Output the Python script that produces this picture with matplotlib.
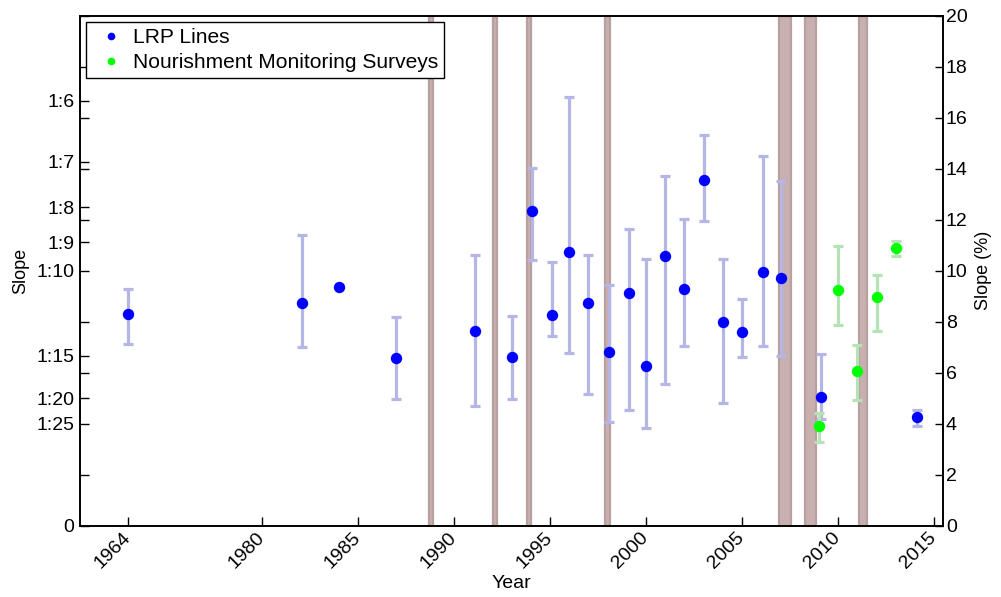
import numpy as np
import matplotlib
matplotlib.use("Agg")
import matplotlib.pyplot as plt
from matplotlib.lines import Line2D

plt.rcParams['font.family'] = ['Liberation Sans', 'DejaVu Sans']

# ---------------- data ----------------
lrp_years = [1964, 1982.1, 1984, 1987, 1991.1, 1993, 1994.05, 1995.1, 1996, 1997,
             1998.05, 1999.1, 2000, 2001, 2002, 2003, 2004, 2005, 2006.1, 2007.05,
             2009.1, 2014.1]
lrp_slope = [8.30, 8.74, 9.36, 6.56, 7.65, 6.60, 12.33, 8.27, 10.72, 8.74,
             6.80, 9.12, 6.27, 10.58, 9.27, 13.58, 7.99, 7.61, 9.97, 9.73,
             5.03, 4.27]
lrp_low = [7.12, 7.02, np.nan, 4.98, 4.71, 4.95, 10.43, 7.43, 6.76, 5.15,
           4.05, 4.54, 3.83, 5.55, 7.03, 11.96, 4.81, 6.61, 7.03, 6.64,
           4.20, 3.89]
lrp_high = [9.30, 11.39, np.nan, 8.18, 10.62, 8.23, 14.04, 10.33, 16.84, 10.62,
            9.45, 11.64, 10.46, 13.73, 12.04, 15.31, 10.46, 8.91, 14.52, 13.52,
            6.73, 4.54]

nms_years = [2009.0, 2010.0, 2011.0, 2012.05, 2013.0]
nms_slope = [3.92, 9.25, 6.07, 8.98, 10.89]
nms_low = [3.26, 7.87, 4.91, 7.62, 10.56]
nms_high = [4.41, 10.96, 7.08, 9.85, 11.17]

# event periods (start, end year)
event_start = [1988.70, 1992.02, 1993.79, 1997.86, 2006.94, 2008.27, 2011.11]
event_end = [1988.93, 1992.26, 1994.01, 1998.13, 2007.54, 2008.85, 2011.53]

x_ticks = [1964, 1980, 1985, 1990, 1995, 2000, 2005, 2010, 2015]
ratio_labels = ['0', '1:25', '1:20', '1:15', '1:10', '1:9', '1:8', '1:7', '1:6']
ratio_values = [0, 4.0, 5.0, 100 / 15, 10.0, 100 / 9, 12.5, 100 / 7, 100 / 6]
pct_ticks = list(range(0, 21, 2))


# axis break: early years are compressed next to 1980
def xpos(year):
    year = np.asarray(year, dtype=float)
    return np.where(year < 1975, year + 9.0, year)


# ---------------- figure ----------------
fig = plt.figure(figsize=(10.01, 5.97), dpi=100)
ax = fig.add_axes([80 / 1001, 1 - 525.5 / 597, 863 / 1001, 509.5 / 597])

for s, e in zip(event_start, event_end):
    ax.axvspan(s, e, facecolor='#c9b0b0', edgecolor='#b9a0a0', lw=1.6, zorder=1)

def draw(years, vals, lo, hi, ecol, mcol):
    years = np.asarray(years, float)
    vals = np.asarray(vals, float)
    lo = np.asarray(lo, float)
    hi = np.asarray(hi, float)
    m = ~np.isnan(lo)
    ax.errorbar(xpos(years[m]), vals[m], yerr=[vals[m] - lo[m], hi[m] - vals[m]],
                fmt='none', ecolor=ecol, elinewidth=2.3, capsize=3.3, capthick=2.3,
                zorder=2)
    ax.plot(xpos(years), vals, 'o', color=mcol, markersize=8.2, mec='none', zorder=3)

draw(lrp_years, lrp_slope, lrp_low, lrp_high, '#b5b5e6', '#0000ff')
draw(nms_years, nms_slope, nms_low, nms_high, '#b5e3b5', '#00ff00')

ax.set_xlim(1970.52, 2015.47)
ax.set_ylim(0, 20)
ax.set_xticks(xpos(x_ticks))
ax.set_xticklabels([str(t) for t in x_ticks], rotation=45, ha='right', va='center',
                   rotation_mode='anchor')
ax.set_yticks(ratio_values)
ax.set_yticklabels(ratio_labels)
ax.set_yticks(pct_ticks, minor=True)
ax.tick_params(axis='both', which='both', direction='in', length=6.5, width=1,
               labelsize=14, top=False, right=False)
ax.tick_params(axis='x', pad=7)
ax.tick_params(axis='y', pad=4)
ax.set_xlabel('Year', fontsize=14, labelpad=2)
ax.set_ylabel('Slope', fontsize=13, labelpad=5)
for sp in ax.spines.values():
    sp.set_linewidth(1.2)

ax2 = ax.twinx()
ax2.set_ylim(0, 20)
ax2.set_yticks(pct_ticks)
ax2.tick_params(axis='y', direction='in', length=6, width=1, labelsize=14, pad=2)
ax2.set_ylabel('Slope (%)', fontsize=13, labelpad=5)
for sp in ax2.spines.values():
    sp.set_linewidth(1.2)

handles = [Line2D([], [], ls='none', marker='o', color='#0000ff', mec='none', markersize=5.5),
           Line2D([], [], ls='none', marker='o', color='#00ff00', mec='none', markersize=5.5)]
leg = ax2.legend(handles, ['LRP Lines', 'Nourishment Monitoring Surveys'],
                 loc='upper left', bbox_to_anchor=(0.007, 0.989), borderaxespad=0,
                 fontsize=15.1, frameon=True, fancybox=False, framealpha=1,
                 edgecolor='black', handletextpad=0.12, handlelength=1.8,
                 borderpad=0.3, labelspacing=0.3)
leg.get_frame().set_linewidth(1.0)
leg.set_zorder(10)

fig.savefig('out.png', dpi=100)
